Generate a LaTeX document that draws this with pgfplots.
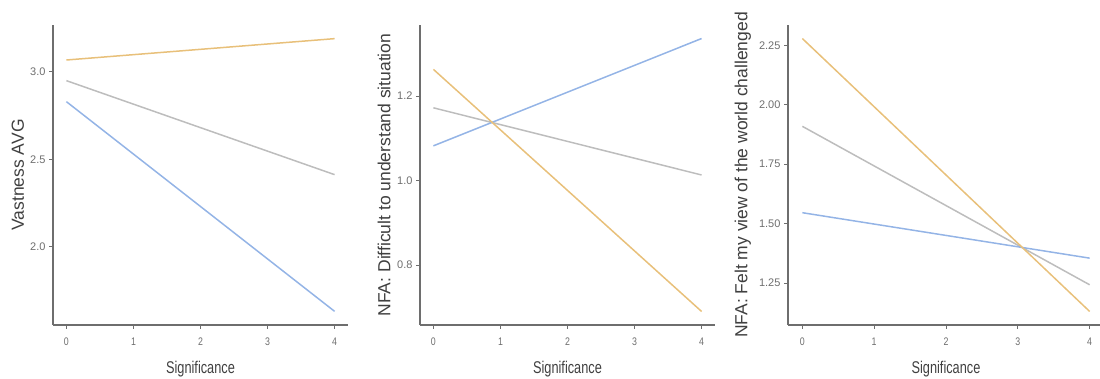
\documentclass[border=0pt]{standalone}
\usepackage{fontspec}
\setmainfont{Liberation Sans}
\usepackage{pgfplots}
\pgfplotsset{compat=1.18}
\definecolor{corange}{HTML}{E8C07A}
\definecolor{cblue}{HTML}{94B4E6}
\definecolor{cgray}{HTML}{BDBDBD}
\definecolor{axgray}{HTML}{6E6E6E}
\pgfplotsset{
  panel/.style={
    scale only axis,
    height=300pt,
    anchor=south west,
    axis lines=left,
    axis line style={-, axgray, line width=1.1pt},
    tick style={axgray, line width=0.9pt},
    tick align=outside,
    major tick length=4pt,
    xmin=-0.2, xmax=4.2,
    xtick={0,1,2,3,4},
    /pgf/number format/assume math mode=true,
    ticklabel style={font=\fontsize{11}{13}\selectfont, text=axgray},
    xticklabel style={xscale=0.8, yshift=-5pt},
    xlabel={\scalebox{0.75}[1]{Significance}},
    xlabel style={font=\fontsize{17}{20}\selectfont, text=black!75, at={(axis description cs:0.5,-0.147)}, anchor=center},
    ylabel style={font=\fontsize{17.5}{20}\selectfont, text=black!75, anchor=center, rotate=0},
    every axis plot/.append style={line width=1.5pt, no markers},
    clip=false,
  }
}
\begin{document}
\begin{tikzpicture}
\path[use as bounding box] (0,0) rectangle (1100pt,379pt);
% Panel 1
\begin{axis}[panel, width=295pt, at={(53pt,54pt)},
  ymin=1.554, ymax=3.268, ytick={2.0,2.5,3.0},
  yticklabel style={/pgf/number format/.cd, fixed, fixed zerofill, precision=1},
  ylabel={Vastness AVG},
  ylabel style={at={(axis description cs:-0.119,0.5)}}]
\addplot[cgray] coordinates {(0,2.95) (4,2.413)};
\addplot[cblue] coordinates {(0,2.83) (4,1.632)};
\addplot[corange] coordinates {(0,3.068) (4,3.19)};
\end{axis}
% Panel 2
\begin{axis}[panel, width=295pt, at={(420pt,54pt)},
  ymin=0.658, ymax=1.368, ytick={0.8,1.0,1.2},
  yticklabel style={/pgf/number format/.cd, fixed, fixed zerofill, precision=1},
  ylabel={NFA: Difficult to understand situation},
  ylabel style={at={(axis description cs:-0.122,0.5)}}]
\addplot[cgray] coordinates {(0,1.172) (4,1.013)};
\addplot[cblue] coordinates {(0,1.082) (4,1.336)};
\addplot[corange] coordinates {(0,1.263) (4,0.690)};
\end{axis}
% Panel 3
\begin{axis}[panel, width=316pt, at={(788pt,54pt)},
  ymin=1.074, ymax=2.335, ytick={1.25,1.50,1.75,2.00,2.25},
  yticklabel style={/pgf/number format/.cd, fixed, fixed zerofill, precision=2},
  ylabel={NFA: Felt my view of the world challenged},
  ylabel style={at={(axis description cs:-0.143,0.5)}}]
\addplot[cgray] coordinates {(0,1.909) (4,1.243)};
\addplot[cblue] coordinates {(0,1.546) (4,1.355)};
\addplot[corange] coordinates {(0,2.278) (4,1.131)};
\end{axis}
\end{tikzpicture}
\end{document}
